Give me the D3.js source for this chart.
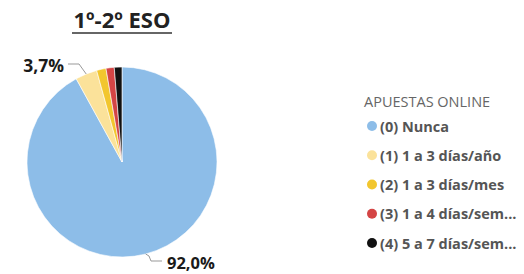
<!DOCTYPE html>
<html>
<head>
<meta charset="utf-8">
<script src="https://cdn.jsdelivr.net/npm/d3@7"></script>
<style>
  body { margin: 0; background: #fff; }
  svg { font-family: "Open Sans", "DejaVu Sans", sans-serif; }
</style>
</head>
<body>
<svg id="chart_svg" width="524" height="274"></svg>
<script>
// data
var categories = ["(0) Nunca", "(1) 1 a 3 días/año", "(2) 1 a 3 días/mes", "(3) 1 a 4 días/sem...", "(4) 5 a 7 días/sem..."];
var values = [92.0, 3.7, 1.6, 1.4, 1.3];
var colors = ["#8dbde8", "#fbe29a", "#f2c62e", "#d44545", "#111111"];
var labels = ["92,0%", "3,7%", "", "", ""];

var cx = 122, cy = 162, radius = 95;

var base = d3.select('#chart_svg');

// Title
base.append("text")
    .text("1º-2º ESO")
    .attr("x", cx)
    .attr("y", 28)
    .attr("text-anchor", "middle")
    .attr("font-size", "21px")
    .attr("font-weight", "bold")
    .attr("textLength", 97)
    .attr("lengthAdjust", "spacingAndGlyphs")
    .attr("fill", "#222");
base.append("line")
    .attr("x1", 72).attr("x2", 172)
    .attr("y1", 33).attr("y2", 33)
    .attr("stroke", "#333")
    .attr("stroke-width", 1.5);

// Pie
var pie = d3.pie().sort(null).value(function(d) { return d; });
var arc = d3.arc().innerRadius(0).outerRadius(radius);
var arcs = pie(values);

var pieGroup = base.append("g")
    .attr("transform", "translate(" + cx + "," + cy + ")");
pieGroup.selectAll("path")
    .data(arcs)
    .enter().append("path")
    .attr("d", arc)
    .attr("fill", function(d, i) { return colors[i]; })
    .attr("stroke", "#fff")
    .attr("stroke-width", 0.6);

// Labels with leader lines
function leader(d, pts, tx, ty, anchor, txt, size) {
    var a = (d.startAngle + d.endAngle) / 2;
    var p0 = [Math.sin(a) * radius, -Math.cos(a) * radius];
    var line = [p0].concat(pts.map(function(p) { return [p[0] - cx, p[1] - cy]; }));
    pieGroup.append("path")
        .attr("d", d3.line()(line))
        .attr("fill", "none")
        .attr("stroke", "#999")
        .attr("stroke-width", 1);
    base.append("text")
        .text(txt)
        .attr("x", tx).attr("y", ty)
        .attr("text-anchor", anchor)
        .attr("dominant-baseline", "central")
        .attr("font-size", size)
        .attr("font-weight", "bold")
        .attr("fill", "#1a1a1a");
}
leader(arcs[1], [[79, 64], [68, 64]], 64, 65, "end", labels[1], "17.5px");
leader(arcs[0], [[149, 256], [151, 261], [162, 261]], 167, 262, "start", labels[0], "16.5px");

// Legend
var legend = base.append("g").attr("transform", "translate(364,0)");
legend.append("text")
    .text("APUESTAS ONLINE")
    .attr("x", 0).attr("y", 101)
    .attr("dominant-baseline", "central")
    .attr("font-size", "14.5px")
    .attr("fill", "#666");
var rowY = d3.scalePoint().domain(categories).range([126, 243]);
var items = legend.selectAll("g.item")
    .data(categories)
    .enter().append("g")
    .attr("class", "item")
    .attr("transform", function(d) { return "translate(0," + rowY(d) + ")"; });
items.append("circle")
    .attr("cx", 8).attr("cy", 0).attr("r", 5)
    .attr("fill", function(d, i) { return colors[i]; });
items.append("text")
    .text(function(d) { return d; })
    .attr("x", 16).attr("y", 0)
    .attr("dominant-baseline", "central")
    .attr("font-size", "14.5px")
    .attr("font-weight", "bold")
    .attr("fill", "#555");
</script>
</body>
</html>
